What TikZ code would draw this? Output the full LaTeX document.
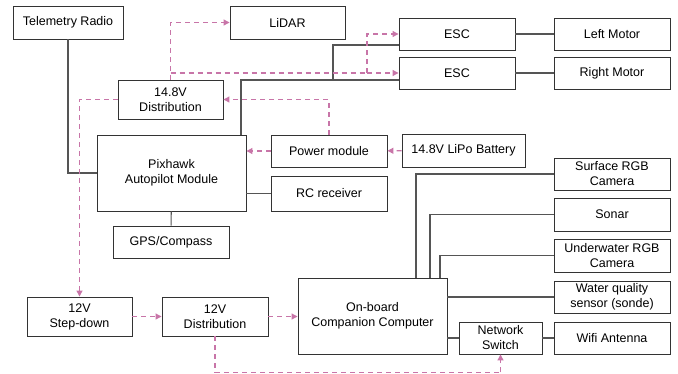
\documentclass[tikz,border=0pt]{standalone}
\usepackage{fontspec}
\setmainfont{Liberation Sans}
\usetikzlibrary{arrows.meta,positioning}
\definecolor{boxgray}{RGB}{51,51,51}
\definecolor{wiregray}{RGB}{85,85,85}
\definecolor{powerpink}{RGB}{200,117,168}
\tikzset{
  block/.style={
    rectangle, draw=boxgray, line width=0.9pt, fill=white,
    align=center, inner sep=1pt,
    font=\fontsize{12.5}{15}\selectfont
  },
  signal line/.style={line width=1.1pt, wiregray},
  power line/.style={line width=1.1pt, powerpink, dash pattern=on 5pt off 4pt,
    -{Triangle[length=6pt,width=6pt]}},
  power wire/.style={line width=1.1pt, powerpink, dash pattern=on 5pt off 4pt}
}

\begin{document}
\begin{tikzpicture}[x=1pt, y=-1pt]
    \useasboundingbox (0,0) rectangle (678,373);
    \node[block, minimum width=110pt, minimum height=33pt] (telemetry) at (68,22.5) {Telemetry Radio};
    \node[block, minimum width=115pt, minimum height=33pt] (lidar) at (287.5,22.5) {LiDAR};
    \node[block, minimum width=116pt, minimum height=32pt] (escleft) at (457,34) {ESC};
    \node[block, minimum width=116pt, minimum height=32pt] (escright) at (457,73) {ESC};
    \node[block, minimum width=116pt, minimum height=32pt] (leftmotor) at (612,34) {Left Motor};
    \node[block, minimum width=116pt, minimum height=32pt] (rightmotor) at (612,73) {Right Motor};
    \node[block, minimum width=105pt, minimum height=39pt] (dist148) at (170.5,99.5) {14.8V\\Distribution};
    \node[block, minimum width=149pt, minimum height=76pt] (pixhawk) at (171.5,173) {Pixhawk\\Autopilot Module};
    \node[block, minimum width=116pt, minimum height=32pt] (power) at (329,151) {Power module};
    \node[block, minimum width=123pt, minimum height=33pt] (battery) at (463.5,150.5) {14.8V LiPo Battery};
    \node[block, minimum width=116pt, minimum height=35pt] (rc) at (329,193.5) {RC receiver};
    \node[block, minimum width=116pt, minimum height=32pt] (gps) at (171,242) {GPS/Compass};
    \node[block, minimum width=116pt, minimum height=32pt] (surface) at (612,174) {Surface RGB\\Camera};
    \node[block, minimum width=116pt, minimum height=33pt] (sonar) at (612,214.5) {Sonar};
    \node[block, minimum width=116pt, minimum height=33pt] (underwater) at (612,255.5) {Underwater RGB\\Camera};
    \node[block, minimum width=116pt, minimum height=32pt] (sonde) at (612,297) {Water quality\\sensor (sonde)};
    \node[block, minimum width=116pt, minimum height=32pt] (wifi) at (612,338) {Wifi Antenna};
    \node[block, minimum width=83pt, minimum height=32pt] (switch) at (500.5,338) {Network\\Switch};
    \node[block, minimum width=149pt, minimum height=76pt] (companion) at (372.5,316) {On-board\\Companion Computer};
    \node[block, minimum width=105pt, minimum height=39pt] (stepdown) at (79.5,316.5) {12V\\Step-down};
    \node[block, minimum width=106pt, minimum height=39pt] (dist12) at (215,316.5) {12V\\Distribution};
    \coordinate (escsplit) at (333,80);
    \coordinate (powsplit) at (170.5,73);
    \coordinate (escpow) at (367,73);
    % data links
    \draw[signal line] (telemetry.south) |- (pixhawk.west);
    \draw[signal line] ([xshift=-5.5pt]pixhawk.north east) |- ([yshift=-7pt]escright.west);
    \draw[signal line] (escsplit) |- ([yshift=-11pt]escleft.west);
    \draw[signal line] (escleft) -- (leftmotor);
    \draw[signal line] (escright) -- (rightmotor);
    \draw[signal line] (rc.west) -- (rc.west -| pixhawk.east);
    \draw[signal line] (pixhawk) -- (gps);
    \draw[signal line] ([xshift=43.5pt]companion.north) |- (surface.west);
    \draw[signal line] ([xshift=57.5pt]companion.north) |- (sonar.west);
    \draw[signal line] ([xshift=67.5pt]companion.north) |- (underwater.west);
    \draw[signal line] (sonde.west -| companion.east) -- (sonde.west);
    \draw[signal line] (switch.west -| companion.east) -- (switch.west);
    \draw[signal line] (switch) -- (wifi);
    % power links
    \draw[power line] (dist148.north) |- (lidar.west);
    \draw[power wire] (powsplit) -- (escpow);
    \draw[power line] (escpow) -- (escright.west);
    \draw[power line] (escpow) |- (escleft.west);
    \draw[power line] (power.north) |- (dist148.east);
    \draw[power line] (power.west) -- (power.west -| pixhawk.east);
    \draw[power line] (battery) -- (power);
    \draw[power line] (dist148.west) -| (stepdown.north);
    \draw[power line] (stepdown) -- (dist12);
    \draw[power line] (dist12.east) -- (dist12.east -| companion.west);
    \draw[power wire] (dist12.south) |- ([yshift=-18pt]switch.south);
    \draw[power line] ([yshift=-18pt]switch.south) -- (switch.south);
  \end{tikzpicture}
\end{document}
